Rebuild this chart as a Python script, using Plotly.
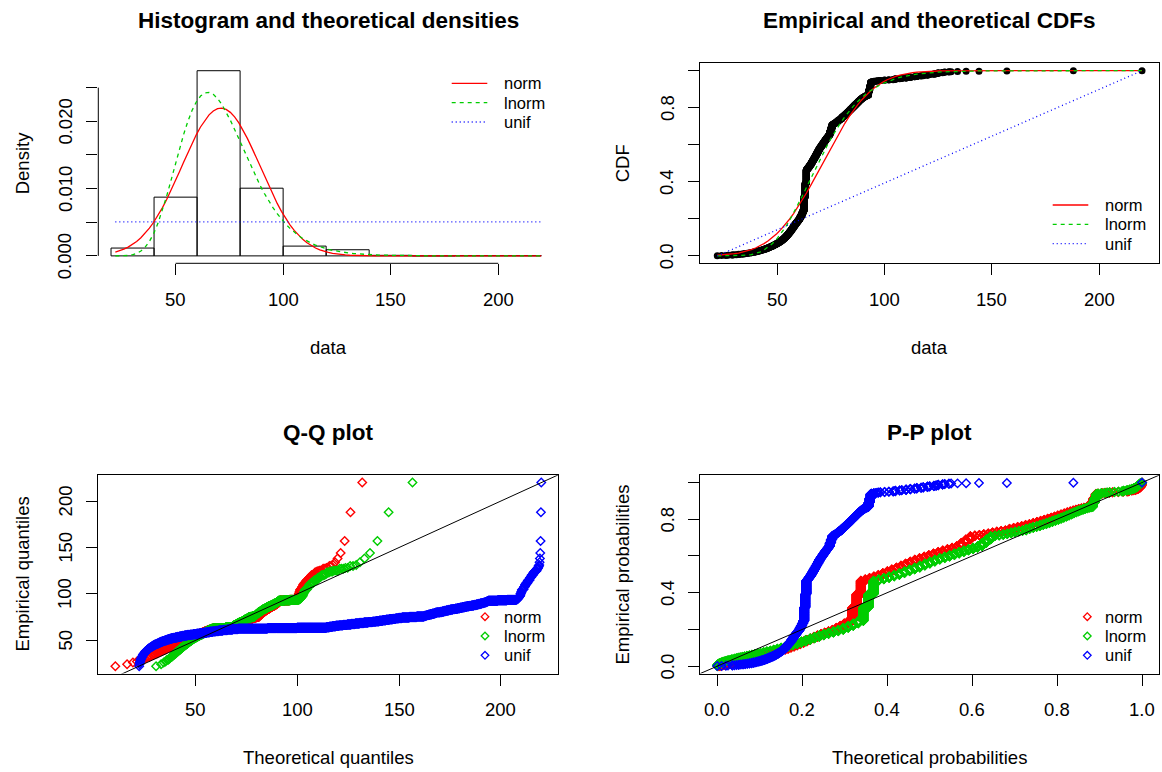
import math
import numpy as np
import plotly.graph_objects as go

# ---- sample: distinct observed values (half-unit resolution) and their frequencies ----
values = [22, 24, 26, 27, 29, 30, 31, 32, 33, 34, 35, 36, 37, 38, 39, 40,
          40.5, 41, 41.5, 42, 42.5, 43, 43.5, 44, 44.5, 45, 45.5, 46, 46.5, 47,
          47.5, 48, 48.5, 49, 49.5, 50, 50.5, 51, 51.5, 52, 52.5, 53, 53.5, 54,
          54.5, 55, 55.5, 56, 56.5, 57, 57.5, 58, 58.5, 59, 59.5, 60,
          60.5, 61, 61.5, 62, 62.5, 63, 63.5,
          64, 64.5, 65, 65.5, 66, 66.5, 67, 67.5, 68, 68.5, 69, 69.5,
          70, 70.5, 71, 71.5, 72, 72.5, 73, 73.5,
          74, 74.5, 75, 75.5, 76, 76.5, 77, 77.5, 78, 78.5, 79, 79.5, 80,
          80.5, 81, 81.5, 82, 82.5, 83, 83.5, 84, 84.5, 85, 85.5, 86,
          86.5, 87, 87.5, 88, 88.5, 89, 89.5, 90, 90.5, 91, 91.5, 92,
          92.5, 93, 93.5,
          94, 95, 96, 97, 98, 100,
          102, 104, 105, 107, 108, 110, 112, 114, 115, 117, 118, 120,
          121, 123, 124, 125, 127, 128, 130,
          131, 134, 138, 144, 157, 188, 220]
counts = [1, 1, 1, 1, 2, 1, 1, 2, 1, 2, 2, 2, 2, 3, 3, 3,
          1, 2, 2, 2, 2, 2, 2, 3, 2, 3, 3, 3, 3, 3,
          3, 4, 3, 4, 4, 4, 4, 5, 5, 5, 6, 6, 7, 7,
          8, 8, 9, 9, 10, 10, 10, 10, 9, 9, 9, 9,
          13, 13, 16, 16, 88, 88, 88,
          9, 9, 10, 10, 12, 12, 12, 12, 13, 13, 13, 13,
          10, 10, 10, 10, 10, 10, 9, 9,
          10, 22, 22, 22, 4, 4, 5, 5, 6, 6, 4, 4, 10,
          6, 6, 6, 7, 6, 7, 7, 7, 7, 7, 7, 7,
          7, 7, 7, 7, 6, 6, 5, 5, 4, 4, 3, 3,
          28, 28, 28,
          3, 3, 2, 2, 2, 2,
          2, 2, 4, 2, 2, 4, 4, 2, 4, 2, 3, 4,
          2, 3, 3, 4, 3, 2, 2,
          1, 1, 1, 1, 1, 1, 1]

hist_breaks = list(range(20, 240, 20))
dist_names = ["norm", "lnorm", "unif"]
dist_colors = ["#FF0000", "#00CD00", "#0000FF"]
dist_dash = ["solid", "4px,4px", "1px,3px"]

data = np.sort(np.repeat(np.array(values, dtype=float), counts))
n = data.size


# ---- normal distribution helpers ----
def norm_cdf(z):
    return 0.5 * (1.0 + np.vectorize(math.erf)(np.asarray(z) / math.sqrt(2.0)))


def _ppf(p):
    a = [-3.969683028665376e+01, 2.209460984245205e+02, -2.759285104469687e+02,
         1.383577518672690e+02, -3.066479806614716e+01, 2.506628277459239e+00]
    b = [-5.447609879822406e+01, 1.615858368580409e+02, -1.556989798598866e+02,
         6.680131188771972e+01, -1.328068155288572e+01]
    c = [-7.784894002430293e-03, -3.223964580411365e-01, -2.400758277161838e+00,
         -2.549732539343734e+00, 4.374664141464968e+00, 2.938163982698783e+00]
    d = [7.784695709041462e-03, 3.224671290700398e-01, 2.445134137142996e+00,
         3.754408661907416e+00]
    plow = 0.02425
    if p < plow:
        q = math.sqrt(-2 * math.log(p))
        return (((((c[0]*q + c[1])*q + c[2])*q + c[3])*q + c[4])*q + c[5]) / \
               ((((d[0]*q + d[1])*q + d[2])*q + d[3])*q + 1)
    if p > 1 - plow:
        q = math.sqrt(-2 * math.log(1 - p))
        return -(((((c[0]*q + c[1])*q + c[2])*q + c[3])*q + c[4])*q + c[5]) / \
                ((((d[0]*q + d[1])*q + d[2])*q + d[3])*q + 1)
    q = p - 0.5
    r = q * q
    return (((((a[0]*r + a[1])*r + a[2])*r + a[3])*r + a[4])*r + a[5])*q / \
           (((((b[0]*r + b[1])*r + b[2])*r + b[3])*r + b[4])*r + 1)


def norm_ppf(p):
    return np.array([_ppf(float(v)) for v in p])


# ---- maximum likelihood fits ----
mu, sd = data.mean(), data.std()
logd = np.log(data)
ml, sl = logd.mean(), logd.std()
lo, hi = data.min(), data.max()

grid = np.linspace(lo, hi, 101)
dens = [
    np.exp(-0.5 * ((grid - mu) / sd) ** 2) / (sd * math.sqrt(2 * math.pi)),
    np.exp(-0.5 * ((np.log(grid) - ml) / sl) ** 2) / (grid * sl * math.sqrt(2 * math.pi)),
    np.full_like(grid, 1.0 / (hi - lo)),
]
cdfs = [
    norm_cdf((grid - mu) / sd),
    norm_cdf((np.log(grid) - ml) / sl),
    (grid - lo) / (hi - lo),
]

probs = (np.arange(1, n + 1) - 0.5) / n
zq = norm_ppf(probs)
theo_q = [mu + sd * zq, np.exp(ml + sl * zq), lo + (hi - lo) * probs]
theo_p = [norm_cdf((data - mu) / sd), norm_cdf((logd - ml) / sl), (data - lo) / (hi - lo)]
emp_cdf = np.arange(1, n + 1) / n

# histogram (right-closed bins, lowest included)
edges = np.array(hist_breaks, dtype=float)
bin_counts = []
for i in range(len(edges) - 1):
    if i == 0:
        m = (data >= edges[i]) & (data <= edges[i + 1])
    else:
        m = (data > edges[i]) & (data <= edges[i + 1])
    bin_counts.append(int(m.sum()))
bin_dens = np.array(bin_counts) / (n * 20.0)
mids = (edges[:-1] + edges[1:]) / 2


def expand(a, b):
    r = b - a
    return [a - 0.04 * r, b + 0.04 * r]


W, H = 1162, 772
FONT = "Arial, Liberation Sans, sans-serif"
LW = 1.3
MK = dict(size=6.5, line_width=1.4)


def px(x):
    return x / W


def py(y):
    return 1 - y / H


LEFT, RIGHT = (98.3, 558.3), (700.3, 1159.0)
TOP, BOTTOM = (63.3, 263.3), (475.2, 673.5)
LX = [px(LEFT[0]), px(LEFT[1])]
RX = [px(RIGHT[0]), px(RIGHT[1])]
TY = [py(TOP[1]), py(TOP[0])]
BY = [py(BOTTOM[1]), py(BOTTOM[0])]

fig = go.Figure()

# Panel 1: histogram and densities
fig.add_trace(go.Bar(x=mids, y=bin_dens, width=20, xaxis="x", yaxis="y",
                     marker=dict(color="rgba(0,0,0,0)", line=dict(color="black", width=1))))
for k in range(3):
    fig.add_trace(go.Scatter(x=grid, y=dens[k], mode="lines", xaxis="x", yaxis="y",
                             line=dict(color=dist_colors[k], width=LW, dash=dist_dash[k])))

# Panel 2: CDFs
fig.add_trace(go.Scatter(x=data, y=emp_cdf, mode="markers", xaxis="x2", yaxis="y2",
                         marker=dict(color="black", size=7, symbol="circle", line=dict(width=0))))
for k in range(3):
    fig.add_trace(go.Scatter(x=grid, y=cdfs[k], mode="lines", xaxis="x2", yaxis="y2",
                             line=dict(color=dist_colors[k], width=LW, dash=dist_dash[k])))

# Panel 3: Q-Q
for k in range(3):
    fig.add_trace(go.Scatter(x=theo_q[k], y=data, mode="markers", xaxis="x3", yaxis="y3",
                             marker=dict(symbol="diamond-open", size=MK["size"], color=dist_colors[k],
                                         line=dict(width=MK["line_width"], color=dist_colors[k]))))
fig.add_trace(go.Scatter(x=[-100, 400], y=[-100, 400], mode="lines", xaxis="x3", yaxis="y3",
                         line=dict(color="black", width=1)))

# Panel 4: P-P
for k in range(3):
    fig.add_trace(go.Scatter(x=theo_p[k], y=probs, mode="markers", xaxis="x4", yaxis="y4",
                             marker=dict(symbol="diamond-open", size=MK["size"], color=dist_colors[k],
                                         line=dict(width=MK["line_width"], color=dist_colors[k]))))
fig.add_trace(go.Scatter(x=[-1, 2], y=[-1, 2], mode="lines", xaxis="x4", yaxis="y4",
                         line=dict(color="black", width=1)))

base_axis = dict(showgrid=False, zeroline=False, ticks="outside", ticklen=11, tickwidth=1,
                 tickcolor="black", showticklabels=False, fixedrange=True)
box = dict(showline=True, linecolor="black", linewidth=1, mirror=True)


def axis(framed, **kw):
    out = dict(base_axis)
    if framed:
        out.update(box)
    else:
        out["showline"] = False
    out.update(kw)
    return out


ymax_h = max(bin_dens.max(), max(d.max() for d in dens))
qx = expand(min(q.min() for q in theo_q), max(q.max() for q in theo_q))

quant_ticks = [50, 100, 150, 200]
prob_ticks = [0, 0.2, 0.4, 0.6, 0.8, 1.0]
dens_ticks = [0, 0.005, 0.01, 0.015, 0.02, 0.025]

fig.update_layout(
    width=W, height=H, margin=dict(l=0, r=0, t=0, b=0),
    paper_bgcolor="white", plot_bgcolor="white", showlegend=False,
    font=dict(family=FONT, color="black"),
    xaxis=axis(False, domain=LX, anchor="y", range=expand(lo, hi), tickvals=quant_ticks),
    yaxis=axis(False, domain=TY, anchor="x", range=[-0.04 * ymax_h, 1.04 * ymax_h],
               tickvals=dens_ticks),
    xaxis2=axis(True, domain=RX, anchor="y2", range=expand(lo, hi), tickvals=quant_ticks),
    yaxis2=axis(True, domain=TY, anchor="x2", range=[-0.04, 1.04], tickvals=prob_ticks),
    xaxis3=axis(True, domain=LX, anchor="y3", range=qx, tickvals=quant_ticks),
    yaxis3=axis(True, domain=BY, anchor="x3", range=expand(lo, hi), tickvals=quant_ticks),
    xaxis4=axis(True, domain=RX, anchor="y4", range=[-0.04, 1.04], tickvals=prob_ticks),
    yaxis4=axis(True, domain=BY, anchor="x4", range=[-0.04, 1.04], tickvals=prob_ticks),
)

shapes = [
    # detached axis lines of the histogram panel
    dict(type="line", xref="x", yref="y domain", x0=50, x1=200, y0=0, y1=0,
         line=dict(color="black", width=1)),
    dict(type="line", xref="x domain", yref="y", x0=0, x1=0, y0=0, y1=0.025,
         line=dict(color="black", width=1)),
]
annotations = []


def text(x, y, s, size=18.5, angle=0, anchor="center"):
    annotations.append(dict(x=px(x), y=py(y), xref="paper", yref="paper", text=s,
                            showarrow=False, textangle=angle, xanchor=anchor,
                            yanchor="middle", font=dict(family=FONT, size=size, color="black")))


# tick labels (x below the frame, y rotated to the left of it)
TICK_SIZE = 18.5


def xlabels(axref, vals, labels, panel_bottom):
    for v, s in zip(vals, labels):
        annotations.append(dict(x=v, y=py(panel_bottom + 35.9), xref=axref, yref="paper",
                                text=s, showarrow=False, xanchor="center", yanchor="middle",
                                font=dict(family=FONT, size=TICK_SIZE, color="black")))


def ylabels(axref, vals, labels, panel_left):
    for v, s in zip(vals, labels):
        if not s:
            continue
        annotations.append(dict(x=px(panel_left - 33.0), y=v, xref="paper", yref=axref,
                                text=s, showarrow=False, textangle=-90,
                                xanchor="center", yanchor="middle",
                                font=dict(family=FONT, size=TICK_SIZE, color="black")))


xlabels("x", quant_ticks, ["50", "100", "150", "200"], TOP[1])
ylabels("y", dens_ticks, ["0.000", "", "0.010", "", "0.020", ""], LEFT[0])
xlabels("x2", quant_ticks, ["50", "100", "150", "200"], TOP[1])
ylabels("y2", prob_ticks, ["0.0", "", "0.4", "", "0.8", ""], RIGHT[0])
xlabels("x3", quant_ticks, ["50", "100", "150", "200"], BOTTOM[1])
ylabels("y3", quant_ticks, ["50", "100", "150", "200"], LEFT[0])
xlabels("x4", prob_ticks, ["0.0", "0.2", "0.4", "0.6", "0.8", "1.0"], BOTTOM[1])
ylabels("y4", prob_ticks, ["0.0", "", "0.4", "", "0.8", ""], RIGHT[0])

# titles
text(328.3, 20.5, "<b>Histogram and theoretical densities</b>", size=22.5)
text(929.6, 20.5, "<b>Empirical and theoretical CDFs</b>", size=22.5)
text(328.3, 432, "<b>Q-Q plot</b>", size=22.5)
text(929.6, 432, "<b>P-P plot</b>", size=22.5)
# axis titles
text(328.3, 347, "data")
text(929.6, 347, "data")
text(328.3, 757, "Theoretical quantiles")
text(929.6, 757, "Theoretical probabilities")
text(22, 163.3, "Density", angle=-90)
text(622, 163.3, "CDF", angle=-90)
text(22, 574.5, "Empirical quantiles", angle=-90)
text(622, 574.5, "Empirical probabilities", angle=-90)

LEG_SIZE = 16.5


# legends
def line_legend(x0, x1, xt, ys):
    for k in range(3):
        shapes.append(dict(type="line", xref="paper", yref="paper", x0=px(x0), x1=px(x1),
                           y0=py(ys[k]), y1=py(ys[k]),
                           line=dict(color=dist_colors[k], width=LW, dash=dist_dash[k])))
        text(xt, ys[k], dist_names[k], size=LEG_SIZE, anchor="left")


def point_legend(xc, xt, ys):
    r = 3.8
    for k in range(3):
        path = "M {a},{b} L {c},{d} L {a},{e} L {f},{d} Z".format(
            a=px(xc), b=py(ys[k] - r), c=px(xc + r), d=py(ys[k]), e=py(ys[k] + r), f=px(xc - r))
        shapes.append(dict(type="path", xref="paper", yref="paper", path=path,
                           line=dict(color=dist_colors[k], width=1.3)))
        text(xt, ys[k], dist_names[k], size=LEG_SIZE, anchor="left")


line_legend(451.7, 487.3, 501.5, [83.3, 102.7, 122.0])
line_legend(1052.7, 1088.3, 1103.0, [205.0, 224.3, 243.6])
point_legend(485.0, 501.5, [616.7, 636.0, 655.3])
point_legend(1087.3, 1103.0, [616.7, 636.0, 655.3])

fig.update_layout(shapes=shapes, annotations=annotations)
fig.write_html("out.html")
